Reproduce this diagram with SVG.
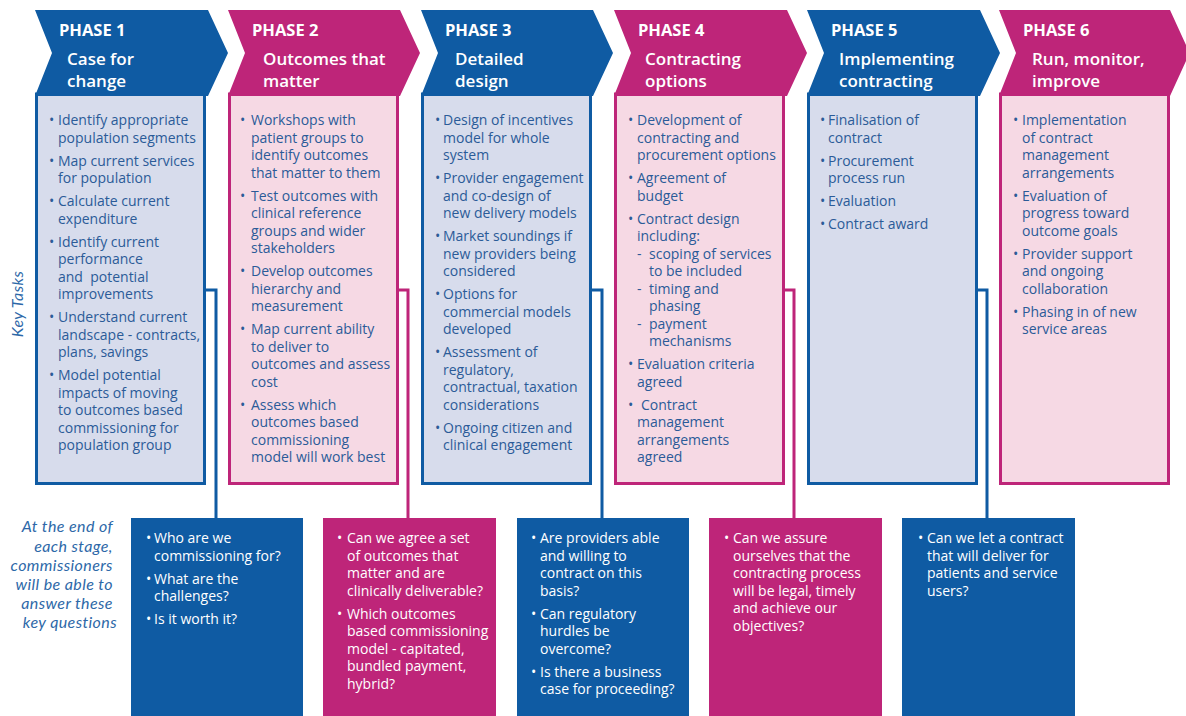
<svg xmlns="http://www.w3.org/2000/svg" width="1186" height="716" viewBox="0 0 1186 716">
  <defs>
    <style>
      text { font-family: "Open Sans", "Noto Sans", "Liberation Sans", sans-serif; }
      .chev-b { fill: #0f5ba3; }
      .chev-m { fill: #be2579; }
      .box-b { fill: #d7dcec; stroke: #0f5ba3; stroke-width: 3; }
      .box-m { fill: #f6d9e4; stroke: #be2579; stroke-width: 3; }
      .q-b { fill: #0f5ba3; }
      .q-m { fill: #be2579; }
      .ln-b { fill: none; stroke: #0f5ba3; stroke-width: 3; }
      .ln-m { fill: none; stroke: #be2579; stroke-width: 3; }
      .hd { fill: #ffffff; font-size: 16.5px; font-weight: 700; }
      .tt { fill: #ffffff; font-size: 17px; font-weight: 600; }
      .bt { fill: #2b5b98; font-size: 14px; }
      .wt { fill: #ffffff; font-size: 14px; }
      .lab { fill: #2d68a8; font-family: Lato, "Liberation Sans", sans-serif; font-size: 16px; font-style: italic; letter-spacing: 0.4px; }
    </style>
  </defs>

  <rect x="0" y="0" width="1186" height="716" fill="#ffffff"/>

  <!-- side labels -->
  <g id="labels">
    <text class="lab" transform="translate(23,304) rotate(-90)" text-anchor="middle">Key Tasks</text>
    <text class="lab" text-anchor="end">
      <tspan x="117" y="532">At the end of</tspan>
      <tspan x="117" y="551.5">each stage,</tspan>
      <tspan x="117" y="571">commissioners</tspan>
      <tspan x="117" y="590">will be able to</tspan>
      <tspan x="117" y="609">answer these</tspan>
      <tspan x="117" y="628">key questions</tspan>
    </text>
  </g>

  <!-- connectors from task boxes down to question boxes -->
  <g id="connectors">
    <path class="ln-b" d="M205 290 H216 V519"/>
    <path class="ln-m" d="M398 290 H408 V519"/>
    <path class="ln-b" d="M591 290 H602 V519"/>
    <path class="ln-m" d="M784 290 H794 V519"/>
    <path class="ln-b" d="M976 290 H987 V519"/>
  </g>

  <!-- Phase 1 -->
  <g id="phase1">
    <rect class="box-b" x="36.5" y="94" width="168" height="389.5"/>
    <polygon class="chev-b" points="35,10 208,10 228,53 208,96 35,96 52,53"/>
    <text class="hd" x="59" y="35.5">PHASE 1</text>
    <text class="tt" x="67" y="65">Case for</text>
    <text class="tt" x="67" y="86.5">change</text>
    <g class="bt">
      <text x="49" y="125">•</text><text x="58" y="125">Identify appropriate</text>
      <text x="58" y="142.5">population segments</text>
      <text x="49" y="165.5">•</text><text x="58" y="165.5">Map current services</text>
      <text x="58" y="183">for population</text>
      <text x="49" y="206">•</text><text x="58" y="206">Calculate current</text>
      <text x="58" y="223.5">expenditure</text>
      <text x="49" y="246.5">•</text><text x="58" y="246.5">Identify current</text>
      <text x="58" y="264">performance</text>
      <text x="58" y="281.5" xml:space="preserve">and  potential</text>
      <text x="58" y="299">improvements</text>
      <text x="49" y="322">•</text><text x="58" y="322">Understand current</text>
      <text x="58" y="339.5">landscape - contracts,</text>
      <text x="58" y="357">plans, savings</text>
      <text x="49" y="380">•</text><text x="58" y="380">Model potential</text>
      <text x="58" y="397.5">impacts of moving</text>
      <text x="58" y="415">to outcomes based</text>
      <text x="58" y="432.5">commissioning for</text>
      <text x="58" y="450">population group</text>
    </g>
  </g>

  <!-- Phase 2 -->
  <g id="phase2">
    <rect class="box-m" x="229.5" y="94" width="168" height="389.5"/>
    <polygon class="chev-m" points="228,10 400,10 420,53 400,96 228,96 245,53"/>
    <text class="hd" x="252" y="35.5">PHASE 2</text>
    <text class="tt" x="263" y="65">Outcomes that</text>
    <text class="tt" x="263" y="86.5">matter</text>
    <g class="bt">
      <text x="240" y="125">•</text><text x="251" y="125">Workshops with</text>
      <text x="251" y="142.5">patient groups to</text>
      <text x="251" y="160">identify outcomes</text>
      <text x="251" y="177.5">that matter to them</text>
      <text x="240" y="200.5">•</text><text x="251" y="200.5">Test outcomes with</text>
      <text x="251" y="218">clinical reference</text>
      <text x="251" y="235.5">groups and wider</text>
      <text x="251" y="253">stakeholders</text>
      <text x="240" y="276">•</text><text x="251" y="276">Develop outcomes</text>
      <text x="251" y="293.5">hierarchy and</text>
      <text x="251" y="311">measurement</text>
      <text x="240" y="334">•</text><text x="251" y="334">Map current ability</text>
      <text x="251" y="351.5">to deliver to</text>
      <text x="251" y="369">outcomes and assess</text>
      <text x="251" y="386.5">cost</text>
      <text x="240" y="409.5">•</text><text x="251" y="409.5">Assess which</text>
      <text x="251" y="427">outcomes based</text>
      <text x="251" y="444.5">commissioning</text>
      <text x="251" y="462">model will work best</text>
    </g>
  </g>

  <!-- Phase 3 -->
  <g id="phase3">
    <rect class="box-b" x="422.5" y="94" width="168" height="389.5"/>
    <polygon class="chev-b" points="421,10 593,10 613,53 593,96 421,96 438,53"/>
    <text class="hd" x="445" y="35.5">PHASE 3</text>
    <text class="tt" x="455" y="65">Detailed</text>
    <text class="tt" x="455" y="86.5">design</text>
    <g class="bt">
      <text x="435" y="125">•</text><text x="443" y="125">Design of incentives</text>
      <text x="443" y="142.5">model for whole</text>
      <text x="443" y="160">system</text>
      <text x="435" y="183">•</text><text x="443" y="183">Provider engagement</text>
      <text x="443" y="200.5">and co-design of</text>
      <text x="443" y="218">new delivery models</text>
      <text x="435" y="241">•</text><text x="443" y="241">Market soundings if</text>
      <text x="443" y="258.5">new providers being</text>
      <text x="443" y="276">considered</text>
      <text x="435" y="299">•</text><text x="443" y="299">Options for</text>
      <text x="443" y="316.5">commercial models</text>
      <text x="443" y="334">developed</text>
      <text x="435" y="357">•</text><text x="443" y="357">Assessment of</text>
      <text x="443" y="374.5">regulatory,</text>
      <text x="443" y="392">contractual, taxation</text>
      <text x="443" y="409.5">considerations</text>
      <text x="435" y="432.5">•</text><text x="443" y="432.5">Ongoing citizen and</text>
      <text x="443" y="450">clinical engagement</text>
    </g>
  </g>

  <!-- Phase 4 -->
  <g id="phase4">
    <rect class="box-m" x="615.5" y="94" width="168" height="389.5"/>
    <polygon class="chev-m" points="614,10 787,10 807,53 787,96 614,96 631,53"/>
    <text class="hd" x="638" y="35.5">PHASE 4</text>
    <text class="tt" x="645" y="65">Contracting</text>
    <text class="tt" x="645" y="86.5">options</text>
    <g class="bt">
      <text x="628" y="125">•</text><text x="637" y="125">Development of</text>
      <text x="637" y="142.5">contracting and</text>
      <text x="637" y="160">procurement options</text>
      <text x="628" y="183">•</text><text x="637" y="183">Agreement of</text>
      <text x="637" y="200.5">budget</text>
      <text x="628" y="223.5">•</text><text x="637" y="223.5">Contract design</text>
      <text x="637" y="241">including:</text>
      <text x="637" y="258.5">-</text><text x="649" y="258.5">scoping of services</text>
      <text x="649" y="276">to be included</text>
      <text x="637" y="293.5">-</text><text x="649" y="293.5">timing and</text>
      <text x="649" y="311">phasing</text>
      <text x="637" y="328.5">-</text><text x="649" y="328.5">payment</text>
      <text x="649" y="346">mechanisms</text>
      <text x="628" y="369">•</text><text x="637" y="369">Evaluation criteria</text>
      <text x="637" y="386.5">agreed</text>
      <text x="628" y="409.5">•</text><text x="641" y="409.5">Contract</text>
      <text x="637" y="427">management</text>
      <text x="637" y="444.5">arrangements</text>
      <text x="637" y="462">agreed</text>
    </g>
  </g>

  <!-- Phase 5 -->
  <g id="phase5">
    <rect class="box-b" x="808.5" y="94" width="168" height="389.5"/>
    <polygon class="chev-b" points="807,10 980,10 1000,53 980,96 807,96 824,53"/>
    <text class="hd" x="831" y="35.5">PHASE 5</text>
    <text class="tt" x="839" y="65">Implementing</text>
    <text class="tt" x="839" y="86.5">contracting</text>
    <g class="bt">
      <text x="820" y="125">•</text><text x="828" y="125">Finalisation of</text>
      <text x="828" y="142.5">contract</text>
      <text x="820" y="165.5">•</text><text x="828" y="165.5">Procurement</text>
      <text x="828" y="183">process run</text>
      <text x="820" y="206">•</text><text x="828" y="206">Evaluation</text>
      <text x="820" y="229">•</text><text x="828" y="229">Contract award</text>
    </g>
  </g>

  <!-- Phase 6 -->
  <g id="phase6">
    <rect class="box-m" x="1000.5" y="94" width="168" height="389.5"/>
    <polygon class="chev-m" points="999,10 1170,10 1186,45 1186,61 1170,96 999,96 1016,53"/>
    <text class="hd" x="1023" y="35.5">PHASE 6</text>
    <text class="tt" x="1032" y="65">Run, monitor,</text>
    <text class="tt" x="1032" y="86.5">improve</text>
    <g class="bt">
      <text x="1013" y="125">•</text><text x="1022" y="125">Implementation</text>
      <text x="1022" y="142.5">of contract</text>
      <text x="1022" y="160">management</text>
      <text x="1022" y="177.5">arrangements</text>
      <text x="1013" y="200.5">•</text><text x="1022" y="200.5">Evaluation of</text>
      <text x="1022" y="218">progress toward</text>
      <text x="1022" y="235.5">outcome goals</text>
      <text x="1013" y="258.5">•</text><text x="1022" y="258.5">Provider support</text>
      <text x="1022" y="276">and ongoing</text>
      <text x="1022" y="293.5">collaboration</text>
      <text x="1013" y="316.5">•</text><text x="1022" y="316.5">Phasing in of new</text>
      <text x="1022" y="334">service areas</text>
    </g>
  </g>

  <!-- key question boxes -->
  <g id="questions1">
    <rect class="q-b" x="131" y="518" width="172" height="198"/>
    <g class="wt">
      <text x="146" y="543">•</text><text x="154" y="543">Who are we</text>
      <text x="154" y="560.5">commissioning for?</text>
      <text x="146" y="583.5">•</text><text x="154" y="583.5">What are the</text>
      <text x="154" y="601">challenges?</text>
      <text x="146" y="624">•</text><text x="154" y="624">Is it worth it?</text>
    </g>
  </g>

  <g id="questions2">
    <rect class="q-m" x="323" y="518" width="173" height="198"/>
    <g class="wt">
      <text x="337" y="543">•</text><text x="347" y="543">Can we agree a set</text>
      <text x="347" y="560.5">of outcomes that</text>
      <text x="347" y="578">matter and are</text>
      <text x="347" y="595.5">clinically deliverable?</text>
      <text x="337" y="618.5">•</text><text x="347" y="618.5">Which outcomes</text>
      <text x="347" y="636">based commissioning</text>
      <text x="347" y="653.5">model - capitated,</text>
      <text x="347" y="671">bundled payment,</text>
      <text x="347" y="688.5">hybrid?</text>
    </g>
  </g>

  <g id="questions3">
    <rect class="q-b" x="517" y="518" width="172" height="198"/>
    <g class="wt">
      <text x="531" y="543">•</text><text x="540" y="543">Are providers able</text>
      <text x="540" y="560.5">and willing to</text>
      <text x="540" y="578">contract on this</text>
      <text x="540" y="595.5">basis?</text>
      <text x="531" y="618.5">•</text><text x="540" y="618.5">Can regulatory</text>
      <text x="540" y="636">hurdles be</text>
      <text x="540" y="653.5">overcome?</text>
      <text x="531" y="676.5">•</text><text x="540" y="676.5">Is there a business</text>
      <text x="540" y="694">case for proceeding?</text>
    </g>
  </g>

  <g id="questions4">
    <rect class="q-m" x="709" y="518" width="173" height="198"/>
    <g class="wt">
      <text x="724" y="543">•</text><text x="733" y="543">Can we assure</text>
      <text x="733" y="560.5">ourselves that the</text>
      <text x="733" y="578">contracting process</text>
      <text x="733" y="595.5">will be legal, timely</text>
      <text x="733" y="613">and achieve our</text>
      <text x="733" y="630.5">objectives?</text>
    </g>
  </g>

  <g id="questions5">
    <rect class="q-b" x="902" y="518" width="173" height="198"/>
    <g class="wt">
      <text x="918" y="543">•</text><text x="927" y="543">Can we let a contract</text>
      <text x="927" y="560.5">that will deliver for</text>
      <text x="927" y="578">patients and service</text>
      <text x="927" y="595.5">users?</text>
    </g>
  </g>
</svg>
